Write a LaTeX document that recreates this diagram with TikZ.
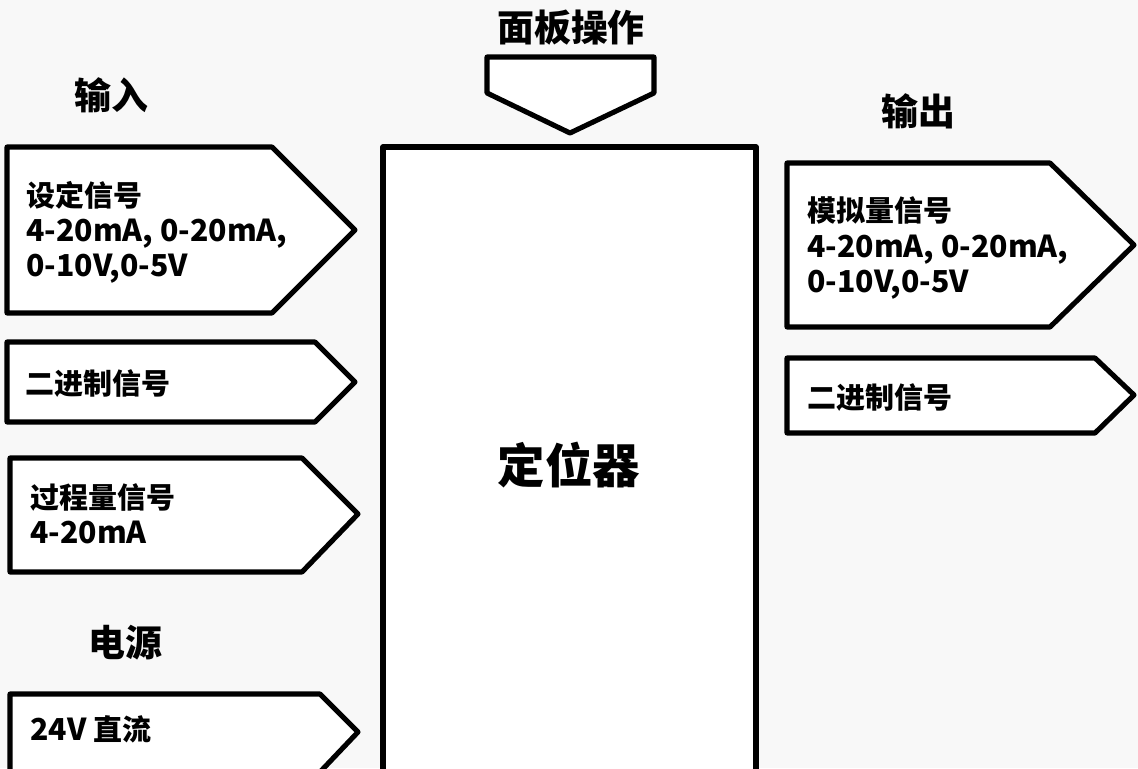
\documentclass[tikz,border=0pt]{standalone}
\usepackage{fontspec}
\setmainfont{Noto Sans CJK SC}
\newcommand\latsize{\fontsize{17.2}{20}\selectfont}
\usepackage{xcolor}
\definecolor{bggray}{RGB}{248,248,248}

\begin{document}
\begin{tikzpicture}[x=0.02cm,y=-0.02cm,
  sigbox/.style={draw=black,fill=white,line width=2.9pt,line join=round},
  boxtext/.style={font=\bfseries\fontsize{16.5}{20}\selectfont,align=left,anchor=west,inner sep=0pt},
  headtext/.style={font=\bfseries\fontsize{21}{24}\selectfont,inner sep=0pt}]
  \fill[bggray] (0,0) rectangle (1138,768);
  \useasboundingbox (0,0) rectangle (1138,768);
  % inputs
  \draw[sigbox] (7,147) -- (272,147) -- (355,230) -- (272,313) -- (7,313) -- cycle;
  \draw[sigbox] (7,342) -- (315,342) -- (355,382) -- (315,422) -- (7,422) -- cycle;
  \draw[sigbox] (10,458) -- (302,458) -- (358,514) -- (302,572) -- (10,572) -- cycle;
  \draw[sigbox] (10,694) -- (320,694) -- (358,732) -- (320,772) -- (10,772) -- cycle;
  % positioner
  \draw[sigbox] (383,147) rectangle (756,775);
  \draw[sigbox] (487,57) -- (654,57) -- (654,93) -- (570,133) -- (487,93) -- cycle;
  % outputs
  \draw[sigbox] (787,163) -- (1050,163) -- (1134,245) -- (1050,327) -- (787,327) -- cycle;
  \draw[sigbox] (787,358) -- (1095,358) -- (1134,395) -- (1095,433) -- (787,433) -- cycle;
  % labels
  \node[headtext] (panel) at (571,28) {面板操作};
  \node[headtext] (inhead) at (111,95) {输入};
  \node[headtext] (outhead) at (918,111) {输出};
  \node[headtext] (pwrhead) at (125,643) {电源};
  \node[font=\bfseries\fontsize{27}{30}\selectfont,inner sep=0pt] (posr) at (569,465) {定位器};
  \node[boxtext] (setin) at (26,232) {设定信号\\{\latsize 4-20mA, 0-20mA,}\\{\latsize 0-10V,0-5V}};
  \node[boxtext] (binin) at (25,383) {二进制信号};
  \node[boxtext] (procin) at (30,514) {过程量信号\\{\latsize 4-20mA}};
  \node[boxtext] (power) at (30,729) {{\latsize 24V} 直流};
  \node[boxtext] (anaout) at (807,248) {模拟量信号\\{\latsize 4-20mA, 0-20mA,}\\{\latsize 0-10V,0-5V}};
  \node[boxtext] (binout) at (807,397) {二进制信号};
\end{tikzpicture}
\end{document}
